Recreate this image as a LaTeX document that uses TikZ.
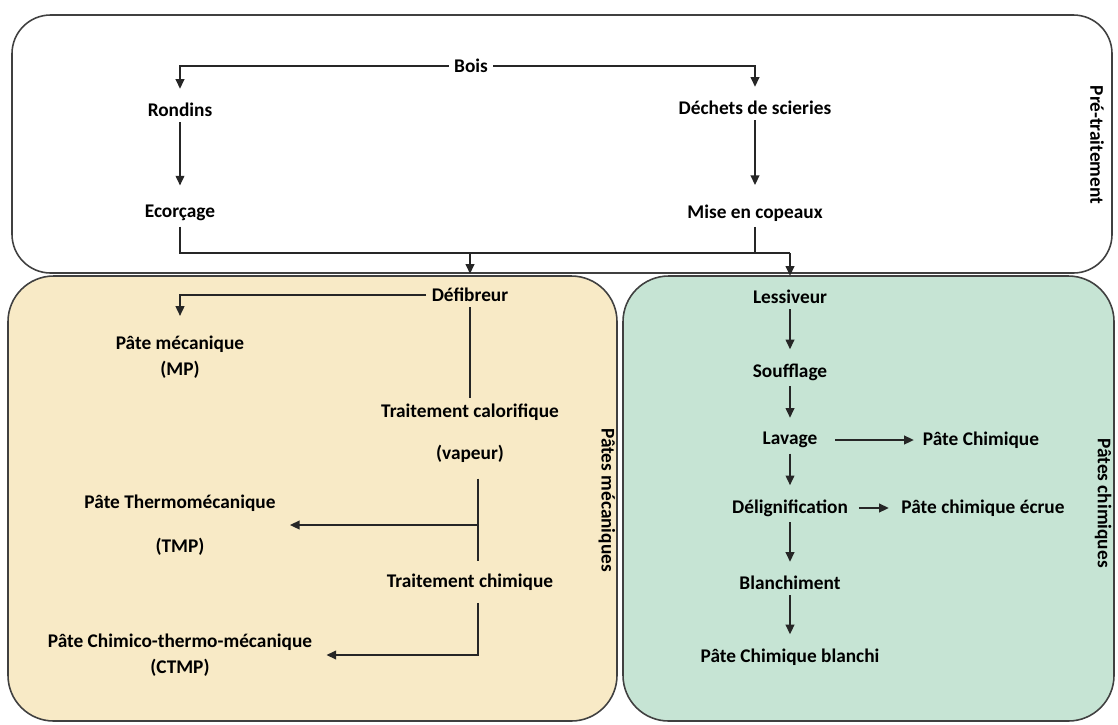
\documentclass[tikz,border=0pt]{standalone}
\usepackage{fontspec}
\setmainfont{Carlito}
\usetikzlibrary{arrows.meta}
\definecolor{mecafill}{HTML}{F8EAC6}
\definecolor{chimfill}{HTML}{C6E4D4}
\definecolor{boxline}{HTML}{404040}
\begin{document}
\begin{tikzpicture}[x=0.02cm,y=-0.02cm,
  every node/.style={font=\bfseries\fontsize{11}{12.5}\selectfont, inner sep=3pt},
  panel/.style={draw=boxline, line width=0.9pt},
  lien/.style={draw=black!85, line width=0.8pt},
  fleche/.style={lien, -{Triangle[length=5.5pt,width=5pt]}, shorten >=5pt},
  cote/.style={rotate=-90}]
\useasboundingbox (0,0) rectangle (1118,724);
\draw[panel, fill=white, rounded corners=22pt] (12,15) rectangle (1112,273);
\draw[panel, fill=mecafill, rounded corners=26pt] (8,276) rectangle (617,721);
\draw[panel, fill=chimfill, rounded corners=26pt] (623,276) rectangle (1114,721);
\node (bois) at (471,66) {Bois};
\node (rondins) at (180,110) {Rondins};
\node (dechets) at (755,108) {Déchets de scieries};
\node (ecorce) at (180,213) {Ecorçage};
\node (copeaux) at (755,213) {Mise en copeaux};
\node (defib) at (470,295) {Défibreur};
\node[align=center] (pmec) at (180,357) {Pâte mécanique\\[2.5pt](MP)};
\node[align=center] (tcal) at (470,433) {Traitement calorifique\\[11.5pt](vapeur)};
\node (tchim) at (470,582) {Traitement chimique};
\node[align=center] (ptmp) at (180,525) {Pâte Thermomécanique\\[12.5pt](TMP)};
\node[align=center] (pctmp) at (180,655) {Pâte Chimico-thermo-mécanique\\[2pt](CTMP)};
\node (lessiv) at (790,297) {Lessiveur};
\node (souff) at (790,372) {Soufflage};
\node (lavage) at (790,440) {Lavage};
\node (pchim) at (981,440) {Pâte Chimique};
\node (delig) at (790,508) {Délignification};
\node (pecrue) at (983,508) {Pâte chimique écrue};
\node (blanch) at (790,583) {Blanchiment};
\node (pblanc) at (790,657) {Pâte Chimique blanchi};
\node[cote] (pretrait) at (1097,145) {Pré-traitement};
\node[cote] (pmecs) at (607,500) {Pâtes mécaniques};
\node[cote] (pchims) at (1103,503) {Pâtes chimiques};
\draw[fleche] (bois.west) -| (rondins.north);
\draw[fleche] (bois.east) -| (dechets.north);
\draw[fleche, shorten >=8pt] (rondins) -- (ecorce);
\draw[fleche, shorten >=8pt] (dechets) -- (copeaux);
\coordinate (bus) at (0,253);
\draw[lien] (ecorce.south) |- (bus -| lessiv.north);
\draw[lien] (copeaux.south) -- (copeaux.south |- bus);
\draw[fleche] (bus -| defib.north) -- (defib.north);
\draw[fleche] (bus -| lessiv.north) -- (lessiv.north);
\draw[fleche, shorten >=8pt] (defib.west) -| (pmec.north);
\draw[lien] (defib) -- (tcal);
\coordinate (vap) at ([xshift=4.5pt]tcal.south);
\coordinate (chimh) at ([xshift=4.5pt]tchim.north);
\coordinate (chimb) at ([xshift=4.5pt]tchim.south);
\draw[lien, shorten <=6pt, shorten >=4pt] (vap) -- (chimh);
\draw[fleche] (vap |- ptmp.east) -- (ptmp.east);
\draw[fleche, shorten <=4pt] (chimb) |- (pctmp.east);
\draw[fleche] (lessiv) -- (souff);
\draw[fleche] (souff) -- (lavage);
\draw[fleche] (lavage) -- (delig);
\draw[fleche] (delig) -- (blanch);
\draw[fleche] (blanch) -- (pblanc);
\draw[fleche, shorten <=7pt, shorten >=2pt] (lavage) -- (pchim);
\draw[fleche, shorten <=3pt, shorten >=4pt] (delig) -- (pecrue);
\end{tikzpicture}
\end{document}
